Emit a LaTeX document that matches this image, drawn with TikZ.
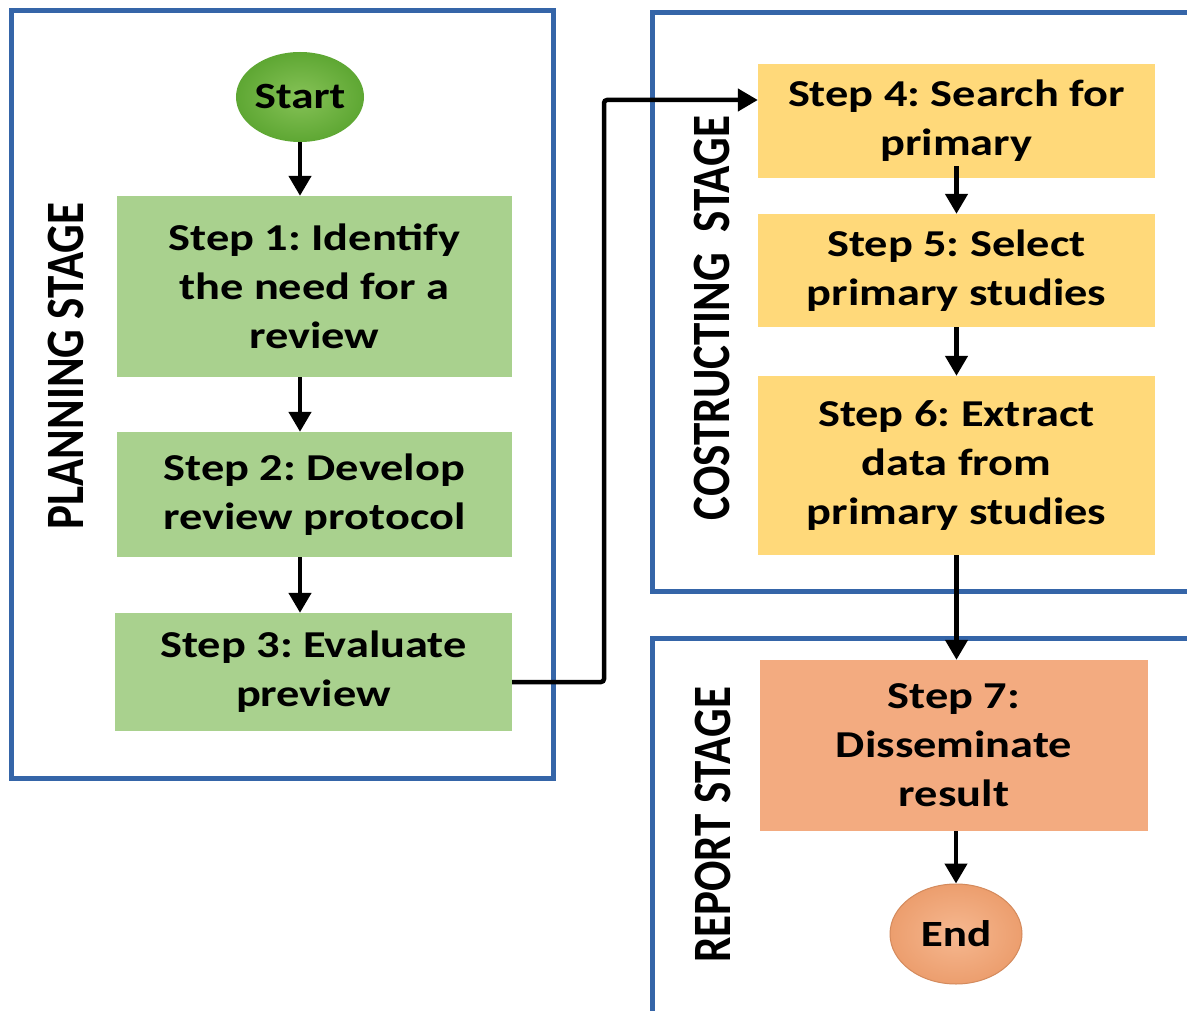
\documentclass[tikz,border=0pt]{standalone}
\usepackage{graphicx}
\usepackage{fontspec}
\setmainfont{Carlito}[FakeStretch=1.22]
\newfontfamily\lblfont{Carlito}
\usetikzlibrary{arrows.meta,shapes.geometric}
\definecolor{frameblue}{HTML}{3565A8}
\definecolor{boxgreen}{HTML}{A9D18E}
\definecolor{startin}{HTML}{86C257}
\definecolor{startout}{HTML}{5EA733}
\definecolor{boxyellow}{HTML}{FFD97A}
\definecolor{boxorange}{HTML}{F3AB80}
\definecolor{endin}{HTML}{F6B890}
\definecolor{endout}{HTML}{EC9E6E}
\definecolor{endedge}{HTML}{D48A5C}
\frenchspacing
\begin{document}
\begin{tikzpicture}[x=1pt,y=-1pt,
  box/.style={rectangle, inner sep=0pt, align=center,
    font=\fontsize{38}{49}\selectfont\bfseries},
  greenbox/.style={box, fill=boxgreen},
  yellowbox/.style={box, fill=boxyellow},
  orangebox/.style={box, fill=boxorange},
  terminal/.style={ellipse, inner sep=0pt, align=center,
    font=\fontsize{37}{44}\selectfont\bfseries},
  conn/.style={line width=4.5pt, -{Triangle[length=20pt,width=22pt]}},
  elbow/.style={line width=4.5pt, rounded corners=3pt, -{Triangle[length=20pt,width=22pt]}},
  stageframe/.style={draw=frameblue, line width=5pt},
  stagelbl/.style={rotate=90, inner sep=0pt}
]
\useasboundingbox (0,0) rectangle (1187,1011);
\fill[white] (0,0) rectangle (1187,1011);
\clip (0,0) rectangle (1187,1011);

% stage frames
\draw[stageframe] (11,11) rectangle (553,778);
\draw[stageframe] (1200,13) -- (652,13) -- (652,591) -- (1200,591);
\draw[stageframe] (1200,638) -- (652,638) -- (652,1030);

% stage labels
\node[stagelbl] (lplan) at (66,366)
  {\scalebox{1}[1.2]{\lblfont\bfseries\fontsize{45}{54}\selectfont PLANNING STAGE}};
\node[stagelbl] (lcons) at (712,318)
  {\scalebox{1}[1.2]{\lblfont\bfseries\fontsize{45}{54}\selectfont COSTRUCTING\ \ STAGE}};
\node[stagelbl] (lrep) at (713,825)
  {\scalebox{1}[1.2]{\lblfont\bfseries\fontsize{45}{54}\selectfont REPORT STAGE}};

% nodes
\node[terminal, minimum width=124pt, minimum height=90pt,
  inner color=startin, outer color=startout] (start) at (300,97) {Start};
\node[greenbox, minimum width=395pt, minimum height=181pt] (s1) at (314.5,286.5)
  {Step 1: Identify\\the need for a\\review};
\node[greenbox, minimum width=395pt, minimum height=125pt] (s2) at (314.5,494.5)
  {Step 2: Develop\\review protocol};
\node[greenbox, minimum width=397pt, minimum height=118pt] (s3) at (313.5,672)
  {Step 3: Evaluate\\preview};
\node[yellowbox, minimum width=397pt, minimum height=114pt] (s4) at (956.5,121)
  {Step 4: Search for\\primary};
\node[yellowbox, minimum width=397pt, minimum height=113pt] (s5) at (956.5,270.5)
  {Step 5: Select\\primary studies};
\node[yellowbox, minimum width=397pt, minimum height=179pt] (s6) at (956.5,465.5)
  {Step 6: Extract\\data from\\primary studies};
\node[orangebox, minimum width=388pt, minimum height=171pt] (s7) at (954,745.5)
  {Step 7:\\Disseminate\\result};
\node[terminal, minimum width=132pt, minimum height=100pt,
  inner color=endin, outer color=endout, draw=endedge, line width=1pt] (end) at (956,934) {End};

% connectors
\coordinate (c3) at ([yshift=-10pt]s3.east);
\coordinate (c4) at ([yshift=21pt]s4.west);
\coordinate (bend) at (604,0);
\draw[conn] (start.south) -- (start.south |- s1.north);
\draw[conn] (start.south |- s1.south) -- (start.south |- s2.north);
\draw[conn] (start.south |- s2.south) -- (start.south |- s3.north);
\draw[elbow] (c3) -- (bend |- c3) -- (bend |- c4) -- (c4);
\draw[conn] ([yshift=12pt]s4.south) -- (s5.north);
\draw[conn] (s5.south) -- (s6.north);
\draw[conn] (s6.south) -- (s6.south |- s7.north);
\draw[conn] (s7.south -| end.north) -- (end.north);
\end{tikzpicture}
\end{document}
